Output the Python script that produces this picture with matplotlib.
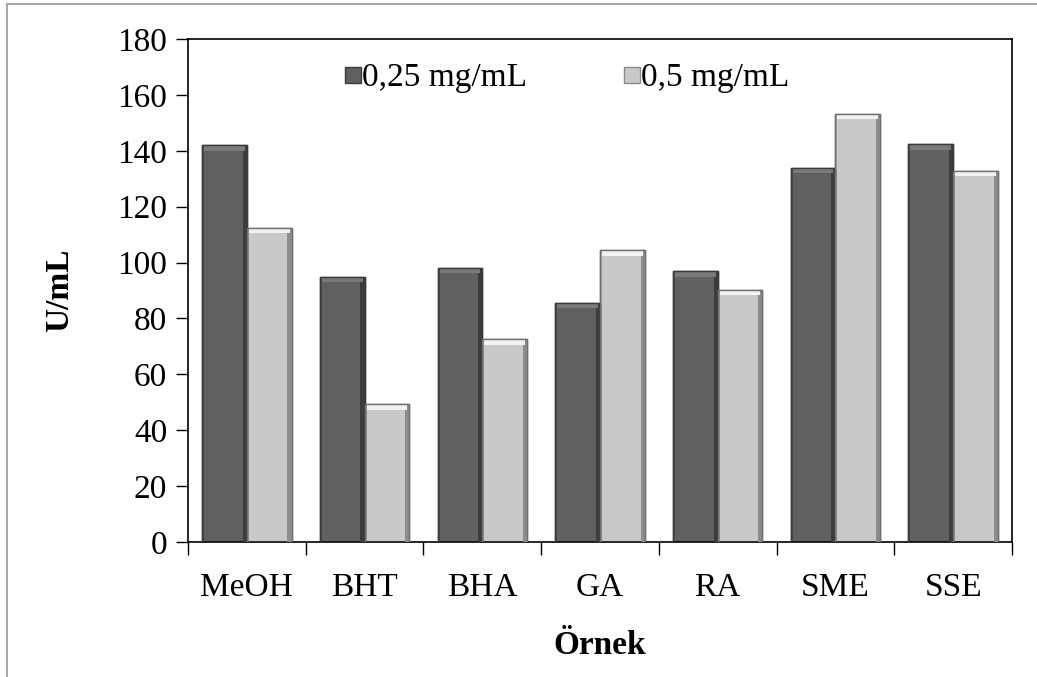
import numpy as np
import matplotlib
matplotlib.use("Agg")
import matplotlib.pyplot as plt
from matplotlib.lines import Line2D

categories = ["MeOH", "BHT", "BHA", "GA", "RA", "SME", "SSE"]
low_dose = [142.0, 94.9, 98.2, 85.7, 97.0, 134.0, 142.3]     # 0,25 mg/mL
high_dose = [112.4, 49.4, 72.6, 104.5, 90.3, 153.3, 132.9]   # 0,5 mg/mL
series_labels = ["0,25 mg/mL", "0,5 mg/mL"]
y_ticks = list(range(0, 181, 20))

plt.rcParams["font.family"] = ["Liberation Serif", "DejaVu Serif"]

fig = plt.figure(figsize=(10.37, 6.77), dpi=100)
ax = fig.add_axes([188 / 1037, 135 / 677, 824 / 1037, 503 / 677])

x = np.arange(len(categories))
w = 0.38
bevel = 2.0   # height of top bevel in data units
side = 0.035  # width of side shading


def bevel_bars(xs, vals, face, dark, light, edge):
    ax.bar(xs, vals, width=w, color=face, edgecolor=edge, linewidth=1.0, zorder=2)
    # darker right side and slight left shade
    ax.bar(xs + w / 2 - side / 2, vals, width=side, color=dark, linewidth=0, zorder=3)
    ax.bar(xs - w / 2 + side / 4, vals, width=side / 2, color=dark, alpha=0.5, linewidth=0, zorder=3)
    # lighter top bevel
    vals = np.asarray(vals)
    ax.bar(xs, bevel, bottom=vals - bevel, width=w - side, color=light, linewidth=0, zorder=4)
    ax.bar(xs, vals, width=w, fill=False, edgecolor=edge, linewidth=1.0, zorder=5)


bevel_bars(x - w / 2, low_dose, "#606060", "#3c3c3c", "#7a7a7a", "#3a3a3a")
bevel_bars(x + w / 2, high_dose, "#c9c9c9", "#8c8c8c", "#f2f2f2", "#707070")

ax.set_xlim(-0.5, len(categories) - 0.5)
ax.set_ylim(0, 180)
ax.set_yticks(y_ticks)
ax.tick_params(axis="y", labelsize=24, length=9, width=1.0, direction="out", pad=6)
ax.set_xticks(np.arange(len(categories) + 1) - 0.5, minor=False)
ax.set_xticklabels([])
ax.set_xticks(x, minor=True)
ax.set_xticklabels(categories, minor=True)
ax.tick_params(axis="x", which="major", length=9, width=1.0, direction="out")
ax.tick_params(axis="x", which="minor", length=0, labelsize=24, pad=22)

for s in ax.spines.values():
    s.set_linewidth(1.2)
    s.set_color("black")

ax.set_ylabel("U/mL", fontsize=24, fontweight="bold")
ax.yaxis.set_label_coords(-0.137, 0.5)
ax.set_xlabel("Örnek", fontsize=24, fontweight="bold")
ax.xaxis.set_label_coords(0.5, -0.175)

handles = [
    Line2D([], [], marker="s", linestyle="none", markersize=12,
           markerfacecolor="#606060", markeredgecolor="#3a3a3a"),
    Line2D([], [], marker="s", linestyle="none", markersize=12,
           markerfacecolor="#c9c9c9", markeredgecolor="#8c8c8c"),
]
ax.legend(handles, series_labels, ncol=2, frameon=False, fontsize=24,
          loc="upper left", bbox_to_anchor=(0.144, 1.012), handletextpad=-0.24,
          columnspacing=2.65, handlelength=1.0)

# outer chart border (top and left only visible)
fig.add_artist(Line2D([7 / 1037, 1], [1 - 4 / 677, 1 - 4 / 677], color="#a8a8a8", linewidth=1.5))
fig.add_artist(Line2D([7 / 1037, 7 / 1037], [0, 1 - 4 / 677], color="#a8a8a8", linewidth=1.5))

fig.savefig("out.png", dpi=100)
